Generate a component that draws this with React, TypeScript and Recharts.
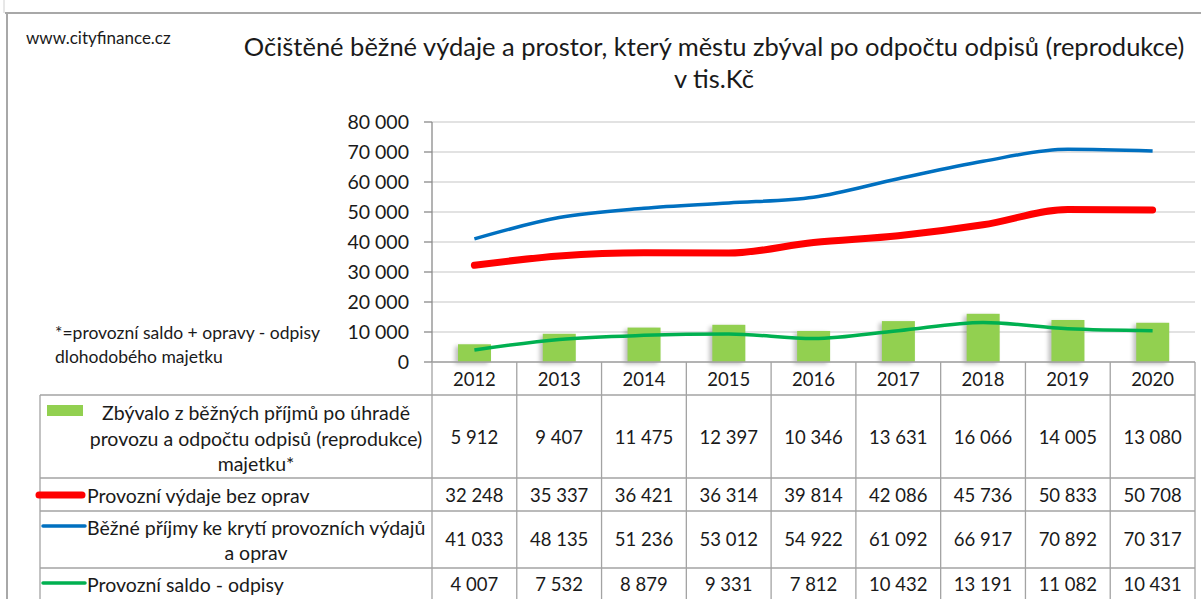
import React from 'react';
import { ComposedChart, Bar, Line, XAxis, YAxis, CartesianGrid } from 'recharts';

// ---------- data ----------
const years = ['2012', '2013', '2014', '2015', '2016', '2017', '2018', '2019', '2020'];
const zbyvalo = [5912, 9407, 11475, 12397, 10346, 13631, 16066, 14005, 13080];
const provozniVydaje = [32248, 35337, 36421, 36314, 39814, 42086, 45736, 50833, 50708];
const bezne = [41033, 48135, 51236, 53012, 54922, 61092, 66917, 70892, 70317];
const saldo = [4007, 7532, 8879, 9331, 7812, 10432, 13191, 11082, 10431];
const yTicks = [0, 10000, 20000, 30000, 40000, 50000, 60000, 70000, 80000];

const titleLines = ['Očištěné běžné výdaje a prostor, který městu zbýval po odpočtu odpisů (reprodukce)', 'v tis.Kč'];
const siteText = 'www.cityfinance.cz';
const footnoteLines = ['*=provozní saldo + opravy - odpisy', 'dlohodobého majetku'];

const seriesLabels = [
  ['Zbývalo z běžných příjmů po úhradě', 'provozu a odpočtu odpisů (reprodukce)', 'majetku*'],
  ['Provozní výdaje bez oprav'],
  ['Běžné příjmy ke krytí provozních výdajů', 'a oprav'],
  ['Provozní saldo - odpisy'],
];

const data = years.map((y, i) => ({
  year: y,
  zbyvalo: zbyvalo[i],
  vydaje: provozniVydaje[i],
  bezne: bezne[i],
  saldo: saldo[i],
}));

// ---------- style / layout ----------
const FONT = 'Lato, "Open Sans", sans-serif';
const TXT = '#1a1a1a';
const BORDER = '#a3a3a3';
const GREEN_BAR = '#92D050';
const RED = '#FF0000';
const BLUE = '#0070C0';
const GREEN_LINE = '#00B050';

const W = 1201;
const H = 599;
const PLOT_LEFT = 432;
const PLOT_RIGHT = 1195;
const PLOT_TOP = 122;
const AXIS_Y = 362;
const Y_AXIS_W = 80;
const BAND = (PLOT_RIGHT - PLOT_LEFT) / years.length;

const TABLE_LEFT = 40;
const HEADER_BOTTOM = 395;
const ROW_LINES = [395, 478, 511, 568];
const TABLE_BOTTOM = 620;
const ROW_VALUE_Y = [437, 495, 539, 584];
const HEADER_Y = 379;

const rowSeries = [zbyvalo, provozniVydaje, bezne, saldo];

const fmt = (v: number) => String(v).replace(/\B(?=(\d{3})+(?!\d))/g, ' ');

const TableTick = (props: any) => {
  const { x, payload, index } = props;
  const i = typeof index === 'number' ? index : years.indexOf(payload.value);
  const left = x - BAND / 2;
  const right = x + BAND / 2;
  return (
    <g>
      {i === 0 && <line x1={left} y1={AXIS_Y} x2={left} y2={TABLE_BOTTOM} stroke={BORDER} strokeWidth={1.3} />}
      <line x1={right} y1={AXIS_Y} x2={right} y2={TABLE_BOTTOM} stroke={BORDER} strokeWidth={1.3} />
      <text x={x} y={HEADER_Y} textAnchor="middle" dominantBaseline="central" fontFamily={FONT} fontSize={18.5} fill={TXT}>
        {payload.value}
      </text>
      {rowSeries.map((vals, r) => (
        <text key={r} x={x} y={ROW_VALUE_Y[r]} textAnchor="middle" dominantBaseline="central" fontFamily={FONT} fontSize={18.5} fill={TXT}>
          {fmt(vals[i])}
        </text>
      ))}
    </g>
  );
};

const BarShape = (p: any) => {
  const { x, y, width, height } = p;
  if (height <= 0) return null;
  return (
    <g>
      <rect x={x - 3} y={y + 2} width={width} height={height} fill="#000" opacity={0.25} filter="url(#barShadow)" />
      <rect x={x} y={y} width={width} height={height} fill={GREEN_BAR} />
    </g>
  );
};

const Overlay = () => {
  const cx = 256;
  const labelFont = 19.5;
  return (
    <svg width={W} height={H} style={{ position: 'absolute', left: 0, top: 0, pointerEvents: 'none' }}>
      <defs>
        <filter id="barShadow" x="-50%" y="-50%" width="200%" height="200%">
          <feGaussianBlur stdDeviation="2" />
        </filter>
      </defs>
      {/* frame */}
      <line x1={4} y1={0} x2={4} y2={13} stroke="#d0d0d0" strokeWidth={1} />
      <line x1={5} y1={13} x2={W} y2={13} stroke="#a8a8a8" strokeWidth={2} />
      <line x1={7} y1={13} x2={7} y2={H} stroke="#a8a8a8" strokeWidth={2} />

      <text x={26} y={37} dominantBaseline="central" fontFamily={FONT} fontSize={17} fill={TXT}>{siteText}</text>
      <text x={714} y={46} textAnchor="middle" dominantBaseline="central" fontFamily={FONT} fontSize={25.5} fill={TXT}>{titleLines[0]}</text>
      <text x={714} y={78} textAnchor="middle" dominantBaseline="central" fontFamily={FONT} fontSize={25.5} fill={TXT}>{titleLines[1]}</text>

      <text x={55} y={332} dominantBaseline="central" fontFamily={FONT} fontSize={17.5} fill={TXT}>{footnoteLines[0]}</text>
      <text x={55} y={356} dominantBaseline="central" fontFamily={FONT} fontSize={17.5} fill={TXT}>{footnoteLines[1]}</text>

      {/* table horizontal lines */}
      {ROW_LINES.map((yy, k) => (
        <line key={k} x1={TABLE_LEFT} y1={yy} x2={PLOT_RIGHT} y2={yy} stroke={BORDER} strokeWidth={1.3} />
      ))}
      <line x1={TABLE_LEFT} y1={HEADER_BOTTOM} x2={TABLE_LEFT} y2={TABLE_BOTTOM} stroke={BORDER} strokeWidth={1.3} />

      {/* legend keys */}
      <rect x={47} y={405} width={36} height={11} fill={GREEN_BAR} />
      <line x1={39} y1={495} x2={82} y2={495} stroke={RED} strokeWidth={7} strokeLinecap="round" />
      <line x1={43} y1={526} x2={85} y2={526} stroke={BLUE} strokeWidth={3.5} strokeLinecap="round" />
      <line x1={43} y1={583} x2={85} y2={583} stroke={GREEN_LINE} strokeWidth={3.5} strokeLinecap="round" />

      {/* legend labels */}
      <text x={cx} y={412} textAnchor="middle" dominantBaseline="central" fontFamily={FONT} fontSize={labelFont} fill={TXT}>{seriesLabels[0][0]}</text>
      <text x={cx} y={438} textAnchor="middle" dominantBaseline="central" fontFamily={FONT} fontSize={labelFont} fill={TXT}>{seriesLabels[0][1]}</text>
      <text x={cx} y={463} textAnchor="middle" dominantBaseline="central" fontFamily={FONT} fontSize={labelFont} fill={TXT}>{seriesLabels[0][2]}</text>
      <text x={87} y={495} dominantBaseline="central" fontFamily={FONT} fontSize={labelFont} fill={TXT}>{seriesLabels[1][0]}</text>
      <text x={87} y={527} dominantBaseline="central" fontFamily={FONT} fontSize={labelFont} fill={TXT}>{seriesLabels[2][0]}</text>
      <text x={cx} y={552} textAnchor="middle" dominantBaseline="central" fontFamily={FONT} fontSize={labelFont} fill={TXT}>{seriesLabels[2][1]}</text>
      <text x={87} y={584} dominantBaseline="central" fontFamily={FONT} fontSize={labelFont} fill={TXT}>{seriesLabels[3][0]}</text>
    </svg>
  );
};

export default function App() {
  return (
    <div style={{ position: 'absolute', left: 0, top: 0, width: W, height: H, background: '#fff', overflow: 'hidden' }}>
      <ComposedChart
        width={W}
        height={H}
        data={data}
        margin={{ top: PLOT_TOP, right: W - PLOT_RIGHT, bottom: 0, left: PLOT_LEFT - Y_AXIS_W }}
        barCategoryGap={0}
      >
        <CartesianGrid vertical={false} stroke="#d9d9d9" strokeWidth={1.3} />
        <YAxis
          domain={[0, 80000]}
          ticks={yTicks}
          interval={0}
          width={Y_AXIS_W}
          tickSize={8}
          tickMargin={15}
          tickFormatter={fmt}
          axisLine={{ stroke: '#8a8a8a', strokeWidth: 1.3 }}
          tickLine={{ stroke: '#8a8a8a', strokeWidth: 1.3 }}
          tick={{ fill: TXT, fontSize: 19.5, fontFamily: FONT }}
        />
        <XAxis
          dataKey="year"
          height={H - AXIS_Y}
          interval={0}
          tickLine={false}
          axisLine={{ stroke: BORDER, strokeWidth: 1.3 }}
          tick={<TableTick />}
        />
        <Bar dataKey="zbyvalo" barSize={33} fill={GREEN_BAR} shape={<BarShape />} isAnimationActive={false} />
        <Line type="monotone" dataKey="vydaje" stroke={RED} strokeWidth={7} strokeLinecap="round" dot={false} isAnimationActive={false} />
        <Line type="monotone" dataKey="bezne" stroke={BLUE} strokeWidth={3.5} dot={false} isAnimationActive={false} />
        <Line type="monotone" dataKey="saldo" stroke={GREEN_LINE} strokeWidth={3.5} dot={false} isAnimationActive={false} />
      </ComposedChart>
      <Overlay />
    </div>
  );
}
